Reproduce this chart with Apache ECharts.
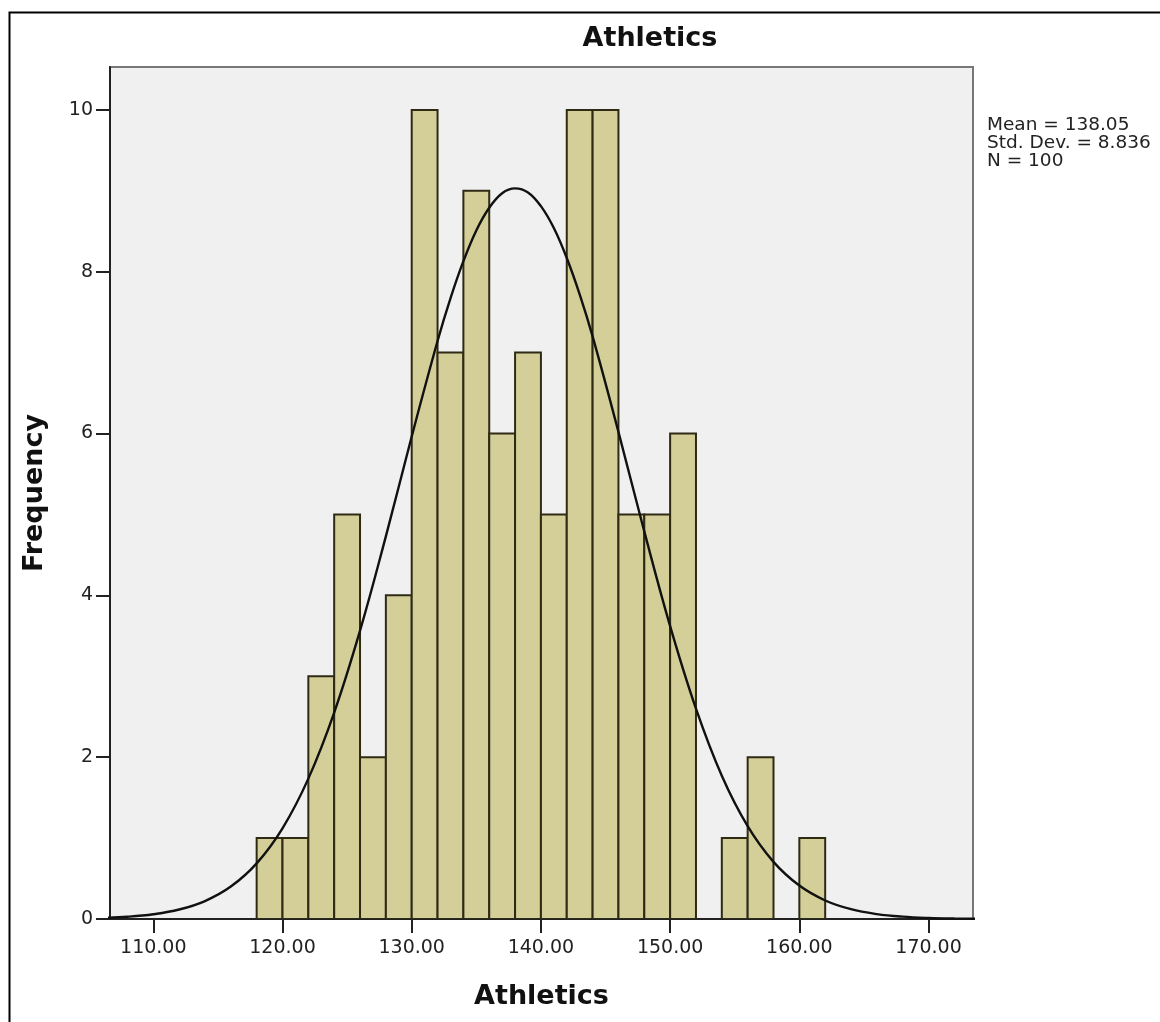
<!DOCTYPE html>
<html>
<head>
<meta charset="utf-8">
<script src="https://cdn.jsdelivr.net/npm/echarts@6/dist/echarts.min.js"></script>
<style>html,body{margin:0;padding:0;background:#fff;}#c{width:1160px;height:1022px;}</style>
</head>
<body>
<div id="c"></div>
<script>
// Histogram bins (start of each 2-unit bin) and frequencies
const binStarts = [118,120,122,124,126,128,130,132,134,136,138,140,142,144,146,148,150,152,154,156,158,160];
const counts    = [1,1,3,5,2,4,10,7,9,6,7,5,10,10,5,5,6,0,1,2,0,1];
const binWidth = 2;
// Normal curve
const curveX = [106,108,110,112,114,116,118,120,122,124,126,128,130,132,133,134,135,136,137,138,139,140,141,142,143,144,146,148,150,152,154,156,158,160,162,164,166,168,170,172,174];
const curveY = [0.013,0.028,0.059,0.117,0.222,0.401,0.688,1.121,1.735,2.551,3.563,4.729,5.963,7.143,7.67,8.13,8.51,8.79,8.97,9.03,8.98,8.81,8.54,8.17,7.72,7.20,6.02,4.79,3.62,2.60,1.77,1.147,0.706,0.413,0.229,0.121,0.061,0.029,0.013,0.0056,0.0023];
const xTicks = [110,120,130,140,150,160,170];
const yTicks = [0,2,4,6,8,10];
const statsLines = ['Mean = 138.05','Std. Dev. = 8.836','N = 100'];

const barData = binStarts.map((s,i)=>[s, s+binWidth, counts[i]]).filter(d=>d[2]>0);
const curveData = curveX.map((x,i)=>[x, curveY[i]]);

const chart = echarts.init(document.getElementById('c'), null, {renderer:'canvas'});
const font = '"DejaVu Sans", Verdana, sans-serif';
chart.setOption({
  animation:false,
  backgroundColor:'#ffffff',
  title:{text:'Athletics', left:645, top:20, textAlign:'center',
    textStyle:{fontFamily:font, fontSize:27, fontWeight:'bold', color:'#111'}},
  graphic:[
    {type:'rect', shape:{x:9.5,y:12.5,width:1200,height:1100}, style:{fill:null, stroke:'#000', lineWidth:2}, silent:true, z:100},
    {type:'text', left:987, top:116, style:{text:statsLines.join('\n'), font:'18.5px "DejaVu Sans", Verdana, sans-serif', fill:'#222', lineHeight:18}}
  ],
  grid:{left:110, top:67, right:187, bottom:103, show:true, backgroundColor:'#f0f0f0', borderColor:'#777', borderWidth:2},
  xAxis:{type:'value', min:106.65, max:173.44,
    name:'Athletics', nameLocation:'middle', nameGap:64,
    nameTextStyle:{fontFamily:font, fontSize:27, fontWeight:'bold', color:'#111'},
    axisLine:{show:true, onZero:false, lineStyle:{color:'#222', width:2}},
    axisTick:{show:true, length:14, lineStyle:{color:'#222', width:2}, customValues:xTicks},
    axisLabel:{fontFamily:font, fontSize:19, color:'#222', margin:20, customValues:xTicks, formatter:v=>Number(v).toFixed(2)},
    splitLine:{show:false}},
  yAxis:{type:'value', min:0, max:10.53,
    name:'Frequency', nameLocation:'middle', nameGap:62, nameRotate:90,
    nameTextStyle:{fontFamily:font, fontSize:27, fontWeight:'bold', color:'#111'},
    axisLine:{show:true, lineStyle:{color:'#222', width:2}},
    axisTick:{show:true, length:14, lineStyle:{color:'#222', width:2}, customValues:yTicks},
    axisLabel:{fontFamily:font, fontSize:19, color:'#222', margin:17, customValues:yTicks},
    splitLine:{show:false}},
  series:[
    {type:'custom', data:barData, clip:true,
      encode:{x:[0,1], y:2},
      renderItem:function(params, api){
        const p0 = api.coord([api.value(0), api.value(2)]);
        const p1 = api.coord([api.value(1), 0]);
        return {type:'rect', shape:{x:p0[0], y:p0[1], width:p1[0]-p0[0], height:p1[1]-p0[1]},
          style:{fill:'#d4cf98', stroke:'#2e2a14', lineWidth:2}};
      }, z:2},
    {type:'line', data:curveData, smooth:0.4, showSymbol:false, symbol:'none',
      lineStyle:{color:'#111', width:2.4}, z:3, clip:true}
  ]
});
</script>
</body>
</html>
